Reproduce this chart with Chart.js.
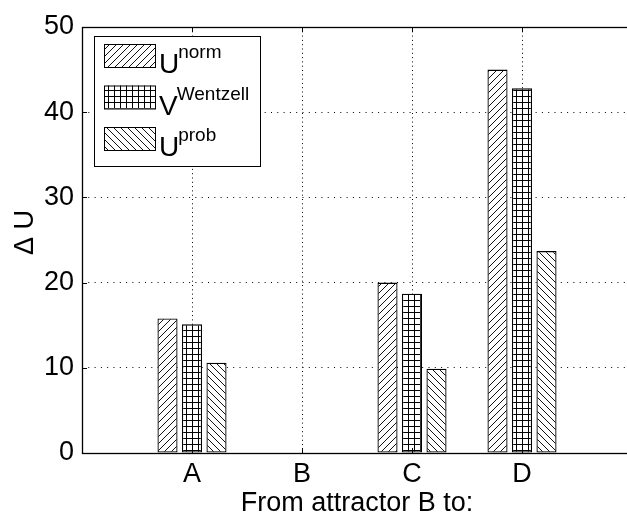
<!DOCTYPE html>
<html>
<head>
<meta charset="utf-8">
<script src="https://cdn.jsdelivr.net/npm/chart.js@4/dist/chart.umd.min.js"></script>
<style>
  html, body { margin: 0; padding: 0; background: #fff; overflow: hidden; width: 627px; height: 517px; }
  #wrap { position: relative; width: 627px; height: 517px; overflow: hidden; }
  #c { position: absolute; left: 0; top: 0; }
</style>
</head>
<body>
<div id="wrap"><canvas id="c" width="640" height="517"></canvas></div>
<script>
// ---- data ----
const categories = ['A', 'B', 'C', 'D'];
const uNorm     = [15.8, 0, 20.0, 45.0];
const vWentzell = [15.1, 0, 18.7, 42.8];
const uProb     = [10.6, 0,  9.9, 23.7];
const yTicks    = [0, 10, 20, 30, 40, 50];
const seriesMain = ['U', 'V', 'U'];
const seriesSup  = ['norm', 'Wentzell', 'prob'];
const xTitle = 'From attractor B to:';
const yTitle = '\u00a0\u00a0\u0394 U';

// padded labels so that the axis spans [0, 5] like the original
const labels = [''].concat(categories, ['']);
const pad = arr => [null].concat(arr, [null]);

const FONT = '"Liberation Sans", Arial, Helvetica, sans-serif';

// ---- fill patterns ----
const helperCtx = document.createElement('canvas').getContext('2d');
function makeHatch(dir) {
  const s = 7;
  const c = document.createElement('canvas');
  c.width = s; c.height = s;
  const g = c.getContext('2d');
  g.fillStyle = '#fff'; g.fillRect(0, 0, s, s);
  g.strokeStyle = '#111'; g.lineWidth = 1;
  g.beginPath();
  if (dir > 0) {
    g.moveTo(-1, s + 1); g.lineTo(s + 1, -1);
    g.moveTo(-2, 2); g.lineTo(2, -2);
    g.moveTo(s - 2, s + 2); g.lineTo(s + 2, s - 2);
  } else {
    g.moveTo(-1, -1); g.lineTo(s + 1, s + 1);
    g.moveTo(-2, s - 2); g.lineTo(2, s + 2);
    g.moveTo(s - 2, -2); g.lineTo(s + 2, 2);
  }
  g.stroke();
  return helperCtx.createPattern(c, 'repeat');
}
function makeGrid() {
  const s = 6;
  const c = document.createElement('canvas');
  c.width = s; c.height = s;
  const g = c.getContext('2d');
  g.fillStyle = '#fff'; g.fillRect(0, 0, s, s);
  g.fillStyle = '#000';
  g.fillRect(0, 0, s, 1);
  g.fillRect(0, 0, 1, s);
  return helperCtx.createPattern(c, 'repeat');
}
const patterns = [makeHatch(1), makeGrid(), makeHatch(-1)];

// ---- plugins: box, inward ticks, legend ----
const boxPlugin = {
  id: 'boxTicks',
  afterDatasetsDraw(chart) {
    const { ctx, chartArea: { left, right, top, bottom }, scales: { x, y } } = chart;
    ctx.save();
    ctx.strokeStyle = '#000';
    ctx.lineWidth = 1.3;
    ctx.strokeRect(left + 0.5, top + 0.5, right - left, bottom - top);
    ctx.lineWidth = 1;
    ctx.beginPath();
    y.ticks.forEach(t => {
      const py = Math.round(y.getPixelForValue(t.value)) + 0.5;
      ctx.moveTo(left, py); ctx.lineTo(left + 5, py);
      ctx.moveTo(right, py); ctx.lineTo(right - 5, py);
    });
    for (let i = 1; i <= categories.length; i++) {
      const px = Math.round(x.getPixelForValue(i)) + 0.5;
      ctx.moveTo(px, bottom); ctx.lineTo(px, bottom - 5);
      ctx.moveTo(px, top); ctx.lineTo(px, top + 5);
    }
    ctx.stroke();
    ctx.restore();
  }
};

const legendPlugin = {
  id: 'supLegend',
  afterDraw(chart) {
    const ctx = chart.ctx;
    ctx.save();
    const bx = 94.5, by = 36.5, bw = 166, bh = 130;
    ctx.fillStyle = '#fff';
    ctx.fillRect(bx, by, bw, bh);
    ctx.strokeStyle = '#000';
    ctx.lineWidth = 1;
    ctx.strokeRect(bx, by, bw, bh);
    const rowTop = [44, 85.5, 127];
    chart.data.datasets.forEach((ds, i) => {
      const sy = rowTop[i];
      ctx.fillStyle = ds.backgroundColor;
      ctx.fillRect(104, sy, 51, 23);
      ctx.strokeStyle = '#000';
      ctx.lineWidth = 1;
      ctx.strokeRect(104.5, sy + 0.5, 51, 23);
      ctx.fillStyle = '#000';
      ctx.textBaseline = 'alphabetic';
      ctx.textAlign = 'left';
      ctx.font = '28px ' + FONT;
      const mx = 159;
      const base = sy + 29;
      ctx.fillText(seriesMain[i], mx, base);
      const w = ctx.measureText(seriesMain[i]).width;
      ctx.font = '19px ' + FONT;
      ctx.fillText(seriesSup[i], mx + w - 1, base - 15);
    });
    ctx.restore();
  }
};

const dsCommon = {
  borderColor: '#000',
  borderWidth: 1.3,
  borderSkipped: false,
  categoryPercentage: 0.668,
  barPercentage: 0.82
};

new Chart(document.getElementById('c'), {
  type: 'bar',
  data: {
    labels: labels,
    datasets: [
      Object.assign({ label: 'Unorm', data: pad(uNorm), backgroundColor: patterns[0] }, dsCommon),
      Object.assign({ label: 'VWentzell', data: pad(vWentzell), backgroundColor: patterns[1] }, dsCommon),
      Object.assign({ label: 'Uprob', data: pad(uProb), backgroundColor: patterns[2] }, dsCommon)
    ]
  },
  options: {
    responsive: false,
    animation: false,
    events: [],
    layout: { padding: { left: 0, top: 27, right: 8, bottom: 0 } },
    plugins: { legend: { display: false }, tooltip: { enabled: false } },
    scales: {
      x: {
        type: 'category',
        offset: false,
        grid: { display: true, offset: false, color: '#000', lineWidth: 1, drawTicks: false },
        border: { display: false, dash: [1, 3.3] },
        ticks: {
          color: '#000', padding: 5, maxRotation: 0, autoSkip: false,
          font: { family: FONT, size: 27, lineHeight: 1.2 }
        },
        title: {
          display: true, text: xTitle, color: '#000',
          font: { family: FONT, size: 27, lineHeight: 1 },
          padding: 0
        },
        afterFit(scale) { scale.height = 64; }
      },
      y: {
        min: 0, max: 50,
        afterBuildTicks(scale) { scale.ticks = yTicks.map(v => ({ value: v })); },
        grid: { display: true, color: '#000', lineWidth: 1, drawTicks: false },
        border: { display: false, dash: [1, 5.3] },
        ticks: {
          color: '#000', padding: 8,
          font: { family: FONT, size: 27, lineHeight: 1.2 }
        },
        title: {
          display: true, text: yTitle, color: '#000',
          font: { family: FONT, size: 27, lineHeight: 1.2 },
          padding: { top: 9, bottom: 0 }
        },
        afterFit(scale) { scale.width = 82; }
      }
    }
  },
  plugins: [boxPlugin, legendPlugin]
});
</script>
</body>
</html>
